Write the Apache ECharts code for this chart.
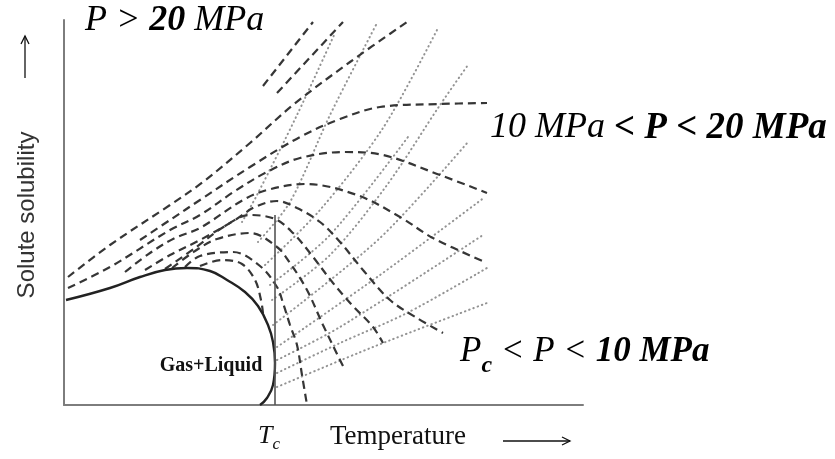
<!DOCTYPE html>
<html>
<head>
<meta charset="utf-8">
<script src="https://cdn.jsdelivr.net/npm/echarts@6/dist/echarts.min.js"></script>
<style>
	html, body { margin: 0; padding: 0; background: #fff; }
	#chart { width: 835px; height: 459px; }
</style>
</head>
<body>
<div id="chart"></div>
<script>
// temperature / solubility in arbitrary units
const boundary = [[2,105],[46,117],[76,128],[101,135],[123,137],[146,134],[163,125],[181,113],[194,99],[204,80],[209,63],[211,42],[209,20],[203,7],[196,0]];
const tcLine = [[211,0],[211,190]];

// isobars (dashed)
const isobarHighA = [[199,319],[249,383]];
const isobarHighB = [[213,312],[279,383]];
const isobarC = [[4,128],[46,160],[106,200],[139,223],[186,262],[229,300],[286,343],[343,383]];
const isobarD = [[76,165],[106,185],[136,205],[186,238],[236,268],[276,286],[316,298],[376,301],[423,302]];
const isobarE = [[4,117],[46,138],[106,175],[136,190],[171,214],[203,233],[236,247],[281,253],[319,250],[376,230],[423,212]];
const isobarF = [[61,133],[86,152],[111,167],[136,177],[179,205],[203,215],[241,221],[293,210],[336,188],[369,167],[421,143]];
const isobarG = [[81,135],[106,150],[136,165],[171,185],[191,198],[213,204],[233,197],[256,183],[276,163],[299,135],[326,105],[353,87],[379,72]];
const isobarH = [[101,136],[131,157],[161,179],[186,190],[211,186],[229,172],[246,152],[269,122],[288,100],[309,78],[319,62]];
const isobarI = [[108,137],[131,154],[153,166],[186,172],[213,158],[226,142],[243,115],[259,80],[276,45],[279,39]];
const isobarJ = [[121,138],[136,149],[169,153],[196,139],[213,118],[219,102],[226,80],[233,60],[238,30],[243,0]];
const isobarK = [[136,139],[158,145],[178,141],[191,125],[197,105],[199,92]];

// isochores (dotted)
const isochore0 = [[178,183],[193,210],[233,290],[271,372]];
const isochore1 = [[194,163],[226,203],[266,290],[313,382]];
const isochore2 = [[201,140],[256,195],[319,277],[373,375]];
const isochore3 = [[206,120],[266,170],[344,268]];
const isochore4 = [[208,105],[266,150],[323,220],[376,300],[404,340]];
const isochore5 = [[209,80],[316,167],[404,263]];
const isochore6 = [[213,58],[316,130],[421,208]];
const isochore7 = [[213,45],[276,78],[419,170]];
const isochore8 = [[213,32],[276,62],[343,92],[423,137]];
const isochore9 = [[213,18],[309,58],[423,102]];

const serif = "'Liberation Serif', 'DejaVu Serif', serif";

const dotted = data => ({
	type: "line", data, showSymbol: false, smooth: 0.3, silent: true, z: 1,
	lineStyle: { color: "#939393", width: 2, type: [0.5, 4], cap: "round" }
});
const dashed = (data, smooth) => ({
	type: "line", data, showSymbol: false, smooth: smooth === undefined ? 0.35 : smooth, silent: true, z: 2,
	lineStyle: { color: "#363636", width: 2.2, type: [8, 5] }
});

const isochores = [isochore0, isochore1, isochore2, isochore3, isochore4, isochore5, isochore6, isochore7, isochore8, isochore9];
const isobars = [isobarC, isobarD, isobarE, isobarF, isobarG, isobarH, isobarI, isobarJ, isobarK];

const series = [];
isochores.forEach(d => series.push(dotted(d)));
series.push(dashed(isobarHighA, false));
series.push(dashed(isobarHighB, false));
isobars.forEach(d => series.push(dashed(d)));
series.push({
	type: "line", data: boundary, showSymbol: false, smooth: 0.45, silent: true, z: 3,
	lineStyle: { color: "#222", width: 2.4 }
});
series.push({
	type: "line", data: tcLine, showSymbol: false, silent: true, z: 3,
	lineStyle: { color: "#555", width: 1.6 }
});

const chart = echarts.init(document.getElementById("chart"));
chart.setOption({
	animation: false,
	backgroundColor: "#fff",
	grid: { left: 64, right: 252, top: 20, bottom: 54, outerBoundsMode: "none" },
	xAxis: {
		type: "value", min: 0, max: 519,
		axisLine: { show: true, lineStyle: { color: "#7d7d7d", width: 2 } },
		axisTick: { show: false }, axisLabel: { show: false }, splitLine: { show: false }
	},
	yAxis: {
		type: "value", min: 0, max: 385,
		axisLine: { show: true, lineStyle: { color: "#7d7d7d", width: 2 } },
		axisTick: { show: false }, axisLabel: { show: false }, splitLine: { show: false }
	},
	series,
	graphic: [
		{
			type: "text", x: 85, y: 21,
			style: {
				text: "{i|P > }{b|20}{i| MPa}",
				textVerticalAlign: "middle", verticalAlign: "middle",
				rich: {
					i: { fontFamily: serif, fontStyle: "italic", fontSize: 36, fill: "#000" },
					b: { fontFamily: serif, fontStyle: "italic", fontWeight: "bold", fontSize: 36, fill: "#000" }
				}
			}
		},
		{
			type: "text", x: 490, y: 128,
			style: {
				text: "{i|10 MPa }{b|< P < 20 MPa}",
				textVerticalAlign: "middle", verticalAlign: "middle",
				rich: {
					i: { fontFamily: serif, fontStyle: "italic", fontSize: 36, fill: "#000" },
					b: { fontFamily: serif, fontStyle: "italic", fontWeight: "bold", fontSize: 37, fill: "#000" }
				}
			}
		},
		{
			type: "text", x: 460, y: 352,
			style: {
				text: "{i|P}{s|c}{i| < P < }{b|10 MPa}",
				textVerticalAlign: "middle", verticalAlign: "middle",
				rich: {
					i: { fontFamily: serif, fontStyle: "italic", fontSize: 35, fill: "#000" },
					s: { fontFamily: serif, fontStyle: "italic", fontWeight: "bold", fontSize: 24, fill: "#000", padding: [28, 0, 0, 0] },
					b: { fontFamily: serif, fontStyle: "italic", fontWeight: "bold", fontSize: 35, fill: "#000" }
				}
			}
		},
		{
			type: "text", x: 211, y: 366,
			style: {
				text: "Gas+Liquid", font: "bold 20px " + serif, fill: "#111",
				textAlign: "center", align: "center", textVerticalAlign: "middle", verticalAlign: "middle"
			}
		},
		{
			type: "text", x: 258, y: 436,
			style: {
				text: "{i|T}{s|c}",
				textVerticalAlign: "middle", verticalAlign: "middle",
				rich: {
					i: { fontFamily: serif, fontStyle: "italic", fontSize: 26, fill: "#111" },
					s: { fontFamily: serif, fontStyle: "italic", fontSize: 17, fill: "#111", padding: [18, 0, 0, 0] }
				}
			}
		},
		{
			type: "text", x: 330, y: 437,
			style: {
				text: "Temperature", font: "27px " + serif, fill: "#111",
				textVerticalAlign: "middle", verticalAlign: "middle"
			}
		},
		{
			type: "text", x: 27, y: 215, rotation: Math.PI / 2,
			style: {
				text: "Solute solubility", font: "24px 'Liberation Sans', Arial, sans-serif", fill: "#333",
				textAlign: "center", align: "center", textVerticalAlign: "middle", verticalAlign: "middle"
			}
		},
		{ type: "polyline", shape: { points: [[503, 441], [570, 441]] }, style: { stroke: "#111", lineWidth: 1.3, fill: null } },
		{ type: "polyline", shape: { points: [[562, 437], [570, 441], [562, 445]] }, style: { stroke: "#111", lineWidth: 1.3, fill: null } },
		{ type: "polyline", shape: { points: [[25, 78], [25, 36]] }, style: { stroke: "#111", lineWidth: 1.3, fill: null } },
		{ type: "polyline", shape: { points: [[21, 44], [25, 36], [29, 44]] }, style: { stroke: "#111", lineWidth: 1.3, fill: null } }
	]
});
</script>
</body>
</html>
